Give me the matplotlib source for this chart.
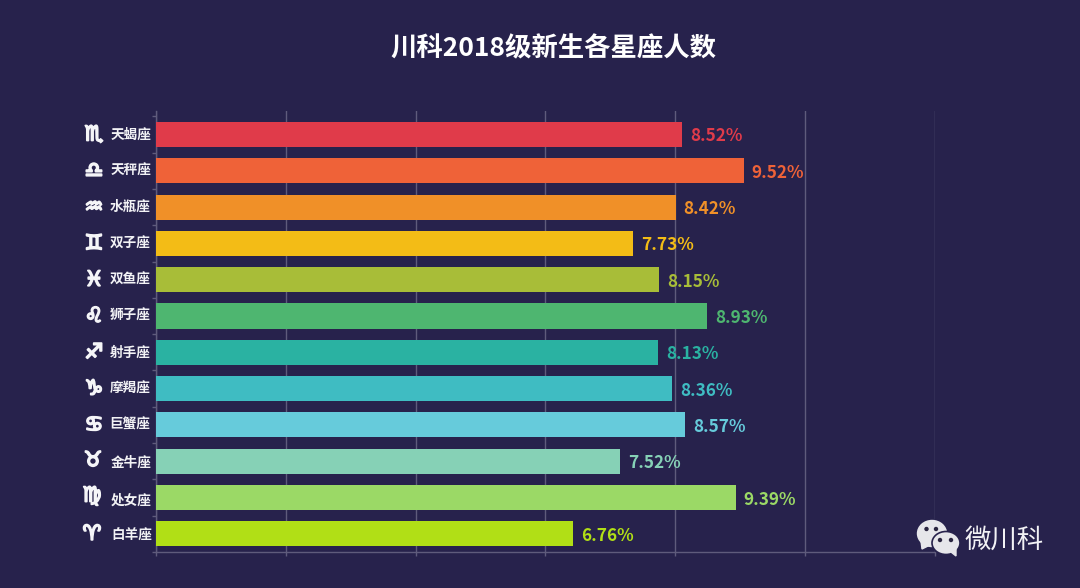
import matplotlib
matplotlib.use("Agg")
import matplotlib.pyplot as plt
import matplotlib.patheffects as pe
from matplotlib.patches import Ellipse, Polygon
import numpy as np

names = ["天蝎座", "天秤座", "水瓶座", "双子座", "双鱼座", "狮子座", "射手座", "摩羯座", "巨蟹座", "金牛座", "处女座", "白羊座"]
symbols = ["♏", "♎", "♒", "♊", "♓", "♌", "♐", "♑", "♋", "♉", "♍", "♈"]
values = [8.52, 9.52, 8.42, 7.73, 8.15, 8.93, 8.13, 8.36, 8.57, 7.52, 9.39, 6.76]
colors = ["#E03B4A", "#EF6238", "#F09028", "#F3BC16", "#A8BD38", "#4EB670", "#2AB2A2", "#3FBCC2",
          "#66CBDB", "#86D1B6", "#9BD966", "#B1DF16"]
BG = "#27224C"
GRID = "#5F5B7C"
CJK = ["Noto Sans CJK SC", "DejaVu Sans"]

W, H = 1080, 588
fig = plt.figure(figsize=(W / 100, H / 100), dpi=100, facecolor=BG)
L, R, T, B = 156.0, 935.0, 111, 552
ax = fig.add_axes([L / W, 1 - B / H, (R - L) / W, (B - T) / H], facecolor=BG)

n = len(names)
y = np.arange(n)
ax.barh(y, values, height=0.69, color=colors, zorder=3)
ax.set_ylim(11.496, -0.647)
ax.set_xlim(0, 12.62)
ax.set_xticks(np.linspace(0, 12.62, 7))
ax.set_xticklabels([])
ax.set_yticks(np.arange(n + 1) - 0.5)
ax.set_yticklabels([])
ax.tick_params(axis="both", length=3, width=1, color=GRID)
ax.grid(axis="x", color=GRID, lw=1, zorder=0)
for s in ["top", "right"]:
    ax.spines[s].set_visible(False)
for s in ["left", "bottom"]:
    ax.spines[s].set_color(GRID)
    ax.spines[s].set_linewidth(1)

label_dy = [0, 0, 0, 0, 0, 0, 0, 0, 0, 2, 3, 2]
label_dx = [-5, -5, -5, -5, -5, -5, -5, -5, -6, -4, -4, -4]
sym_dy = [0, 0, 0, 0, 0, 0, 0, 0, 0, 1, 2, 0]
sym_dx = [-62, -62, -62, -62, -62, -62, -62, -62, -62, -63, -64, -64]
for i, (v, c) in enumerate(zip(values, colors)):
    ax.annotate(f"{v:.2f}%", (v, i), xytext=(8, -2), textcoords="offset pixels",
                va="center", ha="left", color=c, fontsize=12.4, fontweight="bold", family=CJK, zorder=4)
    ax.annotate(names[i], (0, i), xytext=(label_dx[i], -label_dy[i]), textcoords="offset pixels", va="center", ha="right",
                color="#F2F2F5", fontsize=9.8, family=CJK, fontweight="bold")
    ax.annotate(symbols[i], (0, i), xytext=(sym_dx[i], sym_dy[i]), textcoords="offset pixels", va="center", ha="center",
                color="#F5F5F8", fontsize=15, family=["DejaVu Sans"],
                path_effects=[pe.withStroke(linewidth=1.3, foreground="#F5F5F8")])

fig.text(553 / W, 1 - 49 / H, "川科2018级新生各星座人数", color="#FFFFFF", fontsize=19, fontweight="bold",
         family=CJK, ha="center", va="center")

# WeChat watermark, placed in figure pixel coordinates
ov = fig.add_axes([0, 0, 1, 1], facecolor="none")
ov.set_xlim(0, W)
ov.set_ylim(H, 0)
ov.axis("off")
LOGO = "#E6E6EA"
ov.add_patch(Ellipse((932, 533.5), 29, 26, color=LOGO))
ov.add_patch(Polygon([[921, 541], [922, 549], [930, 545]], color=LOGO))
ov.add_patch(Ellipse((946, 543), 28, 23, facecolor=LOGO, edgecolor=BG, lw=1.2))
ov.add_patch(Polygon([[951, 552], [956, 556], [956, 549]], color=LOGO))
for ex, ey, r in [(926.5, 529, 3), (936, 529, 3), (940, 540, 3), (951, 540, 3)]:
    ov.add_patch(Ellipse((ex, ey), r, r, color="#2A2540"))
ov.text(1004, 540, "微川科", color="#F2F2F5", fontsize=19, family=CJK, ha="center", va="center")

fig.savefig("out.png", dpi=100, facecolor=BG)
